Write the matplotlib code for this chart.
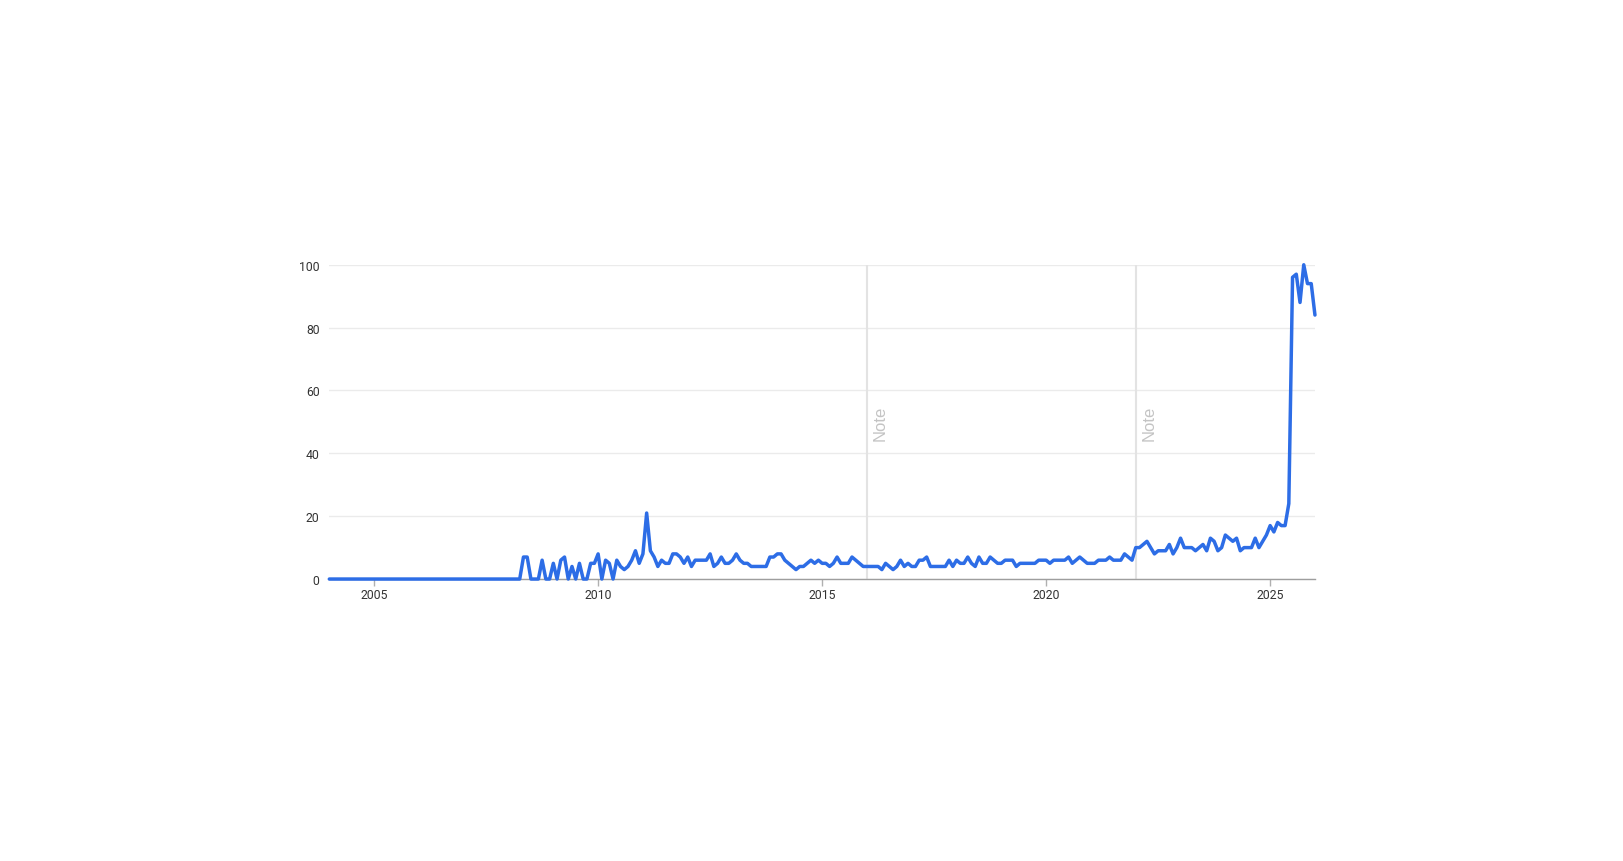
import matplotlib
matplotlib.use("Agg")
import matplotlib.pyplot as plt
import numpy as np

# Monthly interest values, Jan 2004 .. Jan 2026
start_year = 2004
values = [
    0, 0, 0, 0, 0, 0, 0, 0, 0, 0, 0, 0,            # 2004
    0, 0, 0, 0, 0, 0, 0, 0, 0, 0, 0, 0,            # 2005
    0, 0, 0, 0, 0, 0, 0, 0, 0, 0, 0, 0,            # 2006
    0, 0, 0, 0, 0, 0, 0, 0, 0, 0, 0, 0,            # 2007
    0, 0, 0, 0, 7, 7, 0, 0, 0, 6, 0, 0,            # 2008
    5, 0, 6, 7, 0, 4, 0, 5, 0, 0, 5, 5,            # 2009
    8, 0, 6, 5, 0, 6, 4, 3, 4, 6, 9, 5,            # 2010
    8, 21, 9, 7, 4, 6, 5, 5, 8, 8, 7, 5,           # 2011
    7, 4, 6, 6, 6, 6, 8, 4, 5, 7, 5, 5,            # 2012
    6, 8, 6, 5, 5, 4, 4, 4, 4, 4, 7, 7,            # 2013
    8, 8, 6, 5, 4, 3, 4, 4, 5, 6, 5, 6,            # 2014
    5, 5, 4, 5, 7, 5, 5, 5, 7, 6, 5, 4,            # 2015
    4, 4, 4, 4, 3, 5, 4, 3, 4, 6, 4, 5,            # 2016
    4, 4, 6, 6, 7, 4, 4, 4, 4, 4, 6, 4,            # 2017
    6, 5, 5, 7, 5, 4, 7, 5, 5, 7, 6, 5,            # 2018
    5, 6, 6, 6, 4, 5, 5, 5, 5, 5, 6, 6,            # 2019
    6, 5, 6, 6, 6, 6, 7, 5, 6, 7, 6, 5,            # 2020
    5, 5, 6, 6, 6, 7, 6, 6, 6, 8, 7, 6,            # 2021
    10, 10, 11, 12, 10, 8, 9, 9, 9, 11, 8, 10,     # 2022
    13, 10, 10, 10, 9, 10, 11, 9, 13, 12, 9, 10,   # 2023
    14, 13, 12, 13, 9, 10, 10, 10, 13, 10, 12, 14, # 2024
    17, 15, 18, 17, 17, 24, 96, 97, 88, 100, 94, 94,  # 2025
    84,                                            # 2026
]
x_ticks = [2005, 2010, 2015, 2020, 2025]
y_ticks = [0, 20, 40, 60, 80, 100]
note_years = [2016, 2022]
note_label = "Note"

t = start_year + np.arange(len(values)) / 12.0

fig = plt.figure(figsize=(16.23, 8.62), dpi=100)
fig.patch.set_facecolor("white")
ax = fig.add_axes([0.2029, 0.3271, 0.6073, 0.3646])

ax.set_xlim(t[0], t[-1])
ax.set_ylim(0, 100)

# grid
ax.set_yticks(y_ticks)
ax.set_xticks(x_ticks)
ax.yaxis.grid(True, color="#ebebeb", linewidth=1.0)
ax.xaxis.grid(False)
ax.set_axisbelow(True)

for s in ["top", "right", "left"]:
    ax.spines[s].set_visible(False)
ax.spines["bottom"].set_color("#9e9e9e")
ax.spines["bottom"].set_linewidth(1.0)

# note lines
for ny in note_years:
    ax.axvline(ny, color="#e3e3e3", linewidth=1.5, zorder=1)
    ax.text(ny + 0.13, 50, note_label, rotation=90, ha="left", va="center",
            color="#c4c4c4", fontsize=12, family="Liberation Sans", zorder=1)

ax.plot(t, values, color="#2d6de6", linewidth=2.5, solid_joinstyle="round",
        solid_capstyle="round", clip_on=False, zorder=3)

ax.tick_params(axis="y", length=0, pad=7, labelsize=8.8, labelcolor="#333333")
ax.tick_params(axis="x", length=5, width=1, color="#b0b0b0", pad=1.5,
               labelsize=8.8, labelcolor="#333333")
for lab in ax.get_xticklabels() + ax.get_yticklabels():
    lab.set_family("Roboto")

fig.savefig("out.png", dpi=100, facecolor="white")
